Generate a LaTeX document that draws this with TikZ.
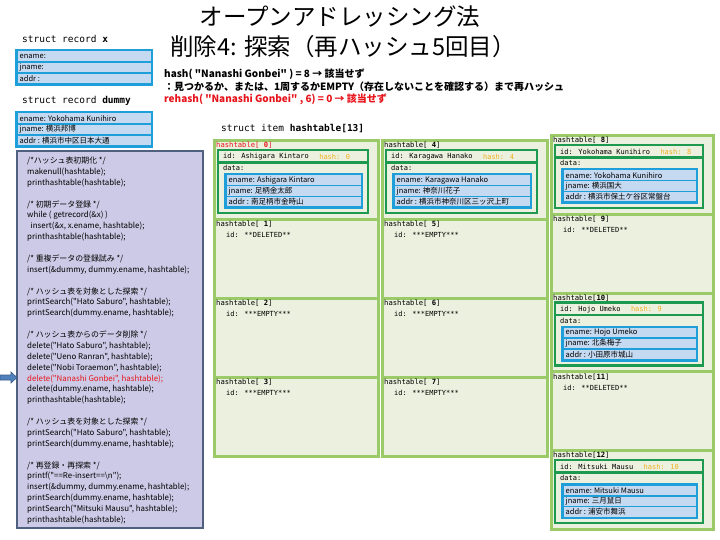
\documentclass[tikz,border=0pt]{standalone}
\usepackage{fontspec}
\setmainfont{Noto Sans CJK JP}[Ligatures=TeXOff]
\newfontfamily\mono{DejaVu Sans Mono}[Ligatures=TeXOff]
\definecolor{recblue}{HTML}{1F9FD9}
\definecolor{rowblue}{HTML}{C5D9F1}
\definecolor{panelfill}{HTML}{CCCAE6}
\definecolor{panelline}{HTML}{50607F}
\definecolor{cellfill}{HTML}{EBF1DE}
\definecolor{cellline}{HTML}{9BCB69}
\definecolor{dkgreen}{HTML}{1E9A50}
\definecolor{hashorange}{HTML}{F0B020}
\definecolor{myred}{HTML}{E8141B}
\definecolor{arrowfill}{HTML}{4F81BD}
\definecolor{arrowline}{HTML}{385D8A}
\tikzset{
  txt/.style={inner sep=0pt, anchor=west, text=black},
  codetxt/.style={txt, font=\fontsize{7.9}{9}\selectfont},
  rowtxt/.style={txt, font=\fontsize{7.5}{9}\selectfont},
  labtxt/.style={txt, font=\mono\fontsize{7.2}{8}\selectfont},
  idtxt/.style={txt, font=\mono\fontsize{7}{8}\selectfont},
  hashtxt/.style={txt, text=hashorange, font=\mono\fontsize{7}{8}\selectfont},
  structtxt/.style={txt, font=\mono\fontsize{9.5}{11}\selectfont},
  hashline/.style={txt, font=\bfseries\fontsize{10}{11}\selectfont},
  titletxt/.style={inner sep=0pt, font=\fontsize{23.5}{26}\selectfont},
  cellbox/.style={draw=cellline, fill=cellfill, line width=3pt, inner sep=0pt, anchor=north west, minimum height=79pt},
  dkbox/.style={draw=dkgreen, line width=2.5pt},
}
% record rows: #1 name, #2 x1, #3 y1, #4 x2, #5 y2, #6 ename, #7 jname, #8 addr
\newcommand\recrows[8]{%
  \fill[recblue] (#2,#3) rectangle (#4,#5);
  \pgfmathsetmacro\rh{((#5)-(#3)-8)/3}
  \fill[rowblue] (#2+2.5,#3+2.5) rectangle (#4-2.5,#3+2.5+\rh);
  \fill[rowblue] (#2+2.5,#3+4+\rh) rectangle (#4-2.5,#3+4+2*\rh);
  \fill[rowblue] (#2+2.5,#3+5.5+2*\rh) rectangle (#4-2.5,#3+5.5+3*\rh);
  \node[rowtxt] (#1e) at (#2+4.5,#3+2.5+0.5*\rh) {ename: #6};
  \node[rowtxt] (#1j) at (#2+4.5,#3+4+1.5*\rh) {jname: #7};
  \node[rowtxt] (#1a) at (#2+4.5,#3+5.5+2.5*\rh) {addr\ : #8};
}
% full cell: #1 X, #2 Y, #3 W, #4 label, #5 name, #6 hash, #7 jname, #8 addr, #9 node name
\newcommand\fullcell[9]{%
  \node[cellbox, minimum width=#3pt] (#9) at (#1,#2) {};
  \node[labtxt] (#9lab) at (#1+3,#2+6.5) {#4};
  \draw[dkbox] (#1+5,#2+11) rectangle (#1+#3-9,#2+74);
  \draw[dkbox] (#1+5,#2+23.5) -- (#1+#3-9,#2+23.5);
  \node[idtxt] (#9id) at (#1+10,#2+17.5) {id: #5};
  \node[hashtxt] (#9hash) at ([xshift=10pt]#9id.east) {hash: #6};
  \node[idtxt] (#9data) at (#1+10,#2+29) {data:};
  \recrows{#9r}{#1+11}{#2+34}{#1+#3-14}{#2+70}{#5}{#7}{#8}
}
% empty cell: #1 X, #2 Y, #3 W, #4 label, #5 id text, #6 node name
\newcommand\emptycell[6]{%
  \node[cellbox, minimum width=#3pt] (#6) at (#1,#2) {};
  \node[labtxt] (#6lab) at (#1+3,#2+6.5) {#4};
  \node[idtxt] (#6id) at (#1+13,#2+17) {id: #5};
}
\begin{document}
\begin{tikzpicture}[x=1pt,y=-1pt]
\useasboundingbox (0,0) rectangle (720,540);
\fill[white] (0,0) rectangle (720,540);

% titles
\node[titletxt] (title1) at (340,17) {オープンアドレッシング法};
\node[titletxt] (title2) at (343,47) {削除4: 探索（再ハッシュ5回目）};
\node[hashline] (h1) at (164,74) {hash( "Nanashi Gonbei" ) = 8 → 該当せず};
\node[hashline] (h2) at (164,86.5) {：見つかるか、または、1周するかEMPTY（存在しないことを確認する）まで再ハッシュ};
\node[hashline, text=myred] (h3) at (164,99) {rehash( "Nanashi Gonbei" , 6) = 0 → 該当せず};

% records
\node[structtxt] (sx) at (22,39) {struct record \textbf{x}};
\recrows{recx}{15}{49}{153}{86}{}{}{}
\node[structtxt] (sd) at (22,101) {struct record \textbf{dummy}};
\recrows{recd}{15}{111}{153}{148}{Yokohama Kunihiro}{横浜邦博}{横浜市中区日本大通}

% code panel
\draw[fill=panelfill, draw=panelline, line width=1.8pt] (17,151) rectangle (203,528);
\node[codetxt] (c1) at (27,161.0) {/*ハッシュ表初期化 */};
\node[codetxt] (c2) at (27,171.9) {makenull(hashtable);};
\node[codetxt] (c3) at (27,182.8) {printhashtable(hashtable);};
\node[codetxt] (c4) at (27,204.5) {/* 初期データ登録 */};
\node[codetxt] (c5) at (27,215.4) {while ( getrecord(\&x) )};
\node[codetxt] (c6) at (27,226.3) {\ \ insert(\&x, x.ename, hashtable);};
\node[codetxt] (c7) at (27,237.2) {printhashtable(hashtable);};
\node[codetxt] (c8) at (27,258.9) {/* 重複データの登録試み */};
\node[codetxt] (c9) at (27,269.8) {insert(\&dummy, dummy.ename, hashtable);};
\node[codetxt] (c10) at (27,291.6) {/* ハッシュ表を対象とした探索 */};
\node[codetxt] (c11) at (27,302.4) {printSearch("Hato Saburo", hashtable);};
\node[codetxt] (c12) at (27,313.3) {printSearch(dummy.ename, hashtable);};
\node[codetxt] (c13) at (27,335.1) {/* ハッシュ表からのデータ削除 */};
\node[codetxt] (c14) at (27,346.0) {delete("Hato Saburo", hashtable);};
\node[codetxt] (c15) at (27,356.8) {delete("Ueno Ranran", hashtable);};
\node[codetxt] (c16) at (27,367.7) {delete("Nobi Toraemon", hashtable);};
\node[codetxt, text=myred] (c17) at (27,378.6) {delete("Nanashi Gonbei", hashtable);};
\node[codetxt] (c18) at (27,389.5) {delete(dummy.ename, hashtable);};
\node[codetxt] (c19) at (27,400.4) {printhashtable(hashtable);};
\node[codetxt] (c20) at (27,422.1) {/* ハッシュ表を対象とした探索 */};
\node[codetxt] (c21) at (27,433.0) {printSearch("Hato Saburo", hashtable);};
\node[codetxt] (c22) at (27,443.9) {printSearch(dummy.ename, hashtable);};
\node[codetxt] (c23) at (27,465.6) {/* 再登録・再探索 */};
\node[codetxt] (c24) at (27,476.5) {printf("==Re-insert==\textbackslash n");};
\node[codetxt] (c25) at (27,487.4) {insert(\&dummy, dummy.ename, hashtable);};
\node[codetxt] (c26) at (27,498.3) {printSearch(dummy.ename, hashtable);};
\node[codetxt] (c27) at (27,509.2) {printSearch("Mitsuki Mausu", hashtable);};
\node[codetxt] (c28) at (27,520.0) {printhashtable(hashtable);};

% pointer arrow
\draw[fill=arrowfill, draw=arrowline, line width=0.6pt]
  (0,375) -- (11,375) -- (11,372) -- (17,377.5) -- (11,383) -- (11,380) -- (0,380) -- cycle;

% hash table
\node[structtxt] (si) at (221,129) {struct item \textbf{hashtable[13]}};
% column 1
\fullcell{213}{139}{164}{\color{myred}hashtable[ \textbf{0}]}{Ashigara Kintaro}{0}{足柄金太郎}{南足柄市金時山}{t0}
\emptycell{213}{218}{164}{hashtable[ \textbf{1}]}{**DELETED**}{t1}
\emptycell{213}{297}{164}{hashtable[ \textbf{2}]}{***EMPTY***}{t2}
\emptycell{213}{376}{164}{hashtable[ \textbf{3}]}{***EMPTY***}{t3}
% column 2
\fullcell{381}{139}{165}{hashtable[ \textbf{4}]}{Karagawa Hanako}{4}{神奈川花子}{横浜市神奈川区三ッ沢上町}{t4}
\emptycell{381}{218}{165}{hashtable[ \textbf{5}]}{***EMPTY***}{t5}
\emptycell{381}{297}{165}{hashtable[ \textbf{6}]}{***EMPTY***}{t6}
\emptycell{381}{376}{165}{hashtable[ \textbf{7}]}{***EMPTY***}{t7}
% column 3
\fullcell{550}{134}{162}{hashtable[ \textbf{8}]}{Yokohama Kunihiro}{8}{横浜国大}{横浜市保土ケ谷区常盤台}{t8}
\emptycell{550}{212.8}{162}{hashtable[ \textbf{9}]}{**DELETED**}{t9}
\fullcell{550}{291.6}{162}{hashtable[\textbf{10}]}{Hojo Umeko}{9}{北条梅子}{小田原市城山}{t10}
\emptycell{550}{370.4}{162}{hashtable[\textbf{11}]}{**DELETED**}{t11}
\fullcell{550}{449.2}{162}{hashtable[\textbf{12}]}{Mitsuki Mausu}{10}{三月鼠日}{浦安市舞浜}{t12}
\end{tikzpicture}
\end{document}
